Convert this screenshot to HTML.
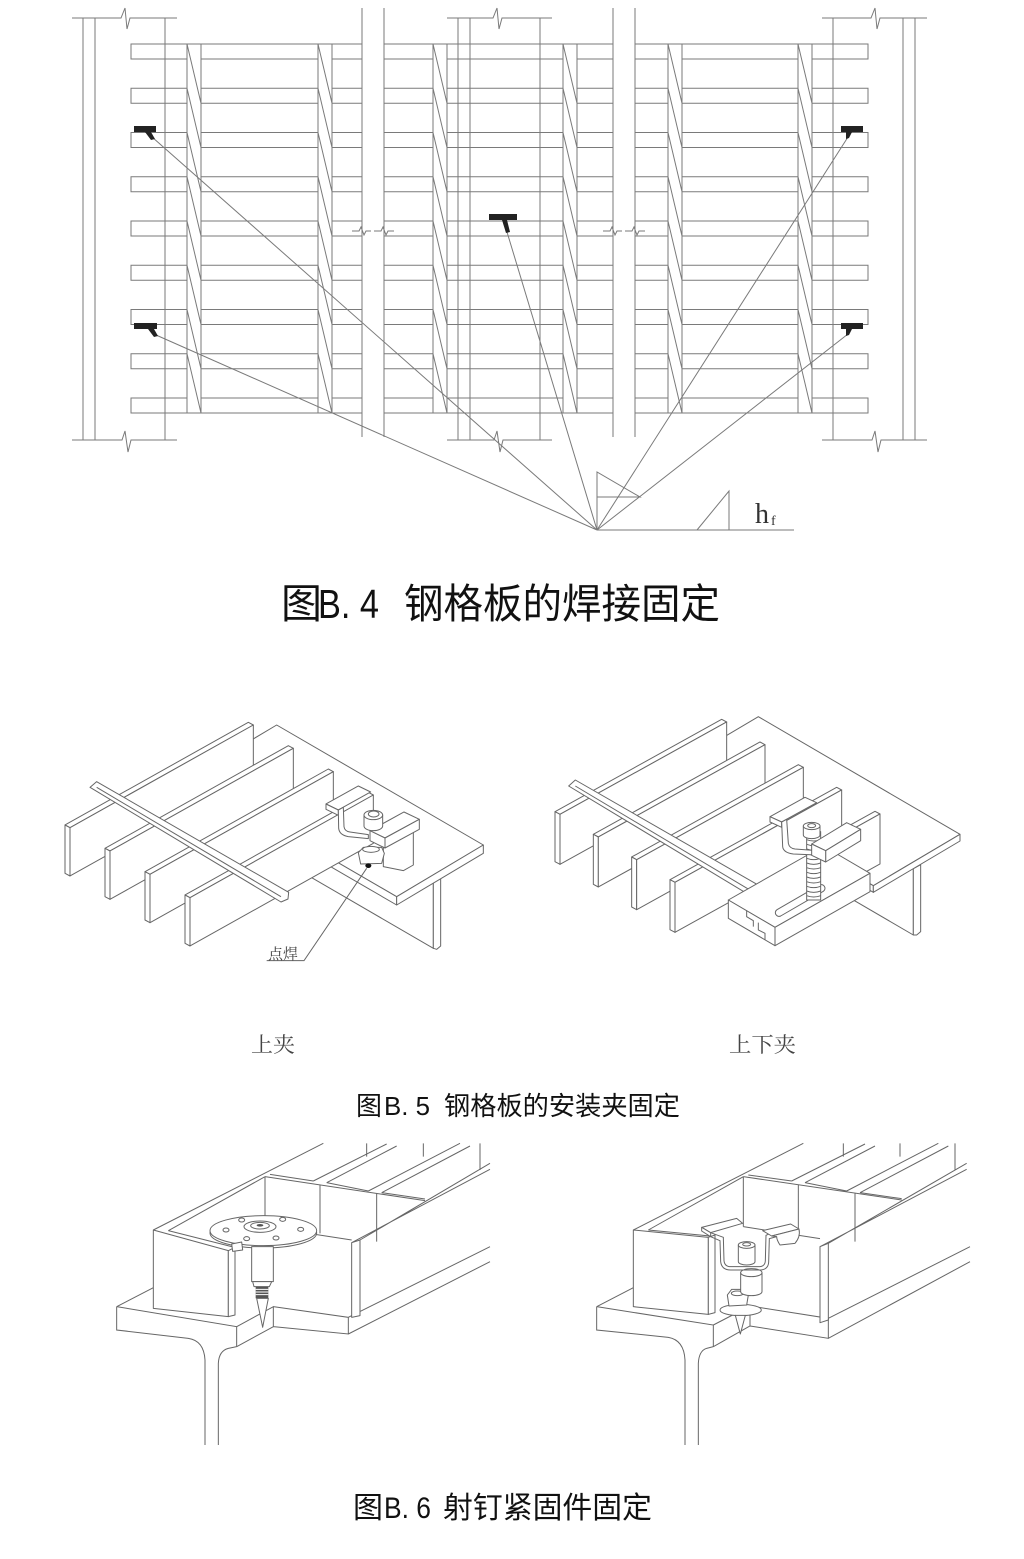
<!DOCTYPE html>
<html><head><meta charset="utf-8">
<style>
html,body{margin:0;padding:0;background:#fff;}
svg{display:block}
.s{fill:none;stroke:#666;stroke-width:1}
.w{fill:#fff;stroke:#666;stroke-width:1;stroke-linejoin:round}
.b4 .s,.b4.s{stroke:#7a7a7a}
.sc *{vector-effect:non-scaling-stroke}
.cap{font-family:"Liberation Sans","Noto Sans CJK SC",sans-serif;fill:#111}
.ser{font-family:"Liberation Serif","Noto Serif CJK SC",serif;fill:#444}
</style></head><body>
<svg width="1024" height="1559" viewBox="0 0 1024 1559" xmlns="http://www.w3.org/2000/svg">
<defs>
<g id="row"><rect x="131" y="0" width="231" height="15"/><rect x="384" y="0" width="229" height="15"/><rect x="635" y="0" width="233" height="15"/></g>
<g id="cb"><rect x="0" y="44" width="14" height="369" fill="#fff"/><path fill="none" d="M0,44L14,103.25M0,88.25L14,147.5M0,132.5L14,191.75M0,176.75L14,236M0,221L14,280.25M0,265.25L14,324.5M0,309.5L14,368.75M0,353.75L14,413"/></g>
</defs>

<!-- ============ Fig B.4 ============ -->
<g class="s b4" style="stroke:#7a7a7a">
<path d="M83,18V440M95,18V440M165,18V440M72,18H121L125,8L127,29L130,18H177M72,440H122L125,431L128,452L131,440H177"/>
<path d="M458,18V440M470,18V440M540,18V440M447,18H493L497,8L499,29L502,18H552M447,440H494L497,431L500,452L503,440H552"/>
<path d="M833,18V440M903,18V440M915,18V440M822,18H871L875,8L877,29L880,18H927M822,440H872L875,431L878,452L881,440H927"/>
<path d="M362,8V437M384,8V437M613,8V437M635,8V437"/>
<path d="M352,231H359L361,227L364,235L366,231H371M374,231H381L383,227L386,235L388,231H394M603,231H610L612,227L615,235L617,231H622M625,231H632L634,227L637,235L639,231H645"/>
<use href="#row" y="44"/><use href="#row" y="88.25"/><use href="#row" y="132.5"/><use href="#row" y="176.75"/><use href="#row" y="221"/><use href="#row" y="265.25"/><use href="#row" y="309.5"/><use href="#row" y="353.75"/><use href="#row" y="398"/>
<use href="#cb" x="187"/><use href="#cb" x="318"/><use href="#cb" x="433"/><use href="#cb" x="563"/><use href="#cb" x="668"/><use href="#cb" x="798"/>
<path d="M152,137L597,530M156,335L597,530M507,232L597,530M848,137L597,530M848,334L597,530"/>
<path d="M597,530V472L640,497H597M597,530H794M697,530L729,491V530"/>
</g>
<g fill="#222">
<rect x="134" y="126" width="22" height="6"/><polygon points="145,132 151,132 155,139 151,140"/>
<rect x="134" y="323" width="23" height="6"/><polygon points="148,329 154,329 158,336 154,337"/>
<rect x="489" y="214" width="28" height="6"/><polygon points="502,220 507,220 510,232 506,233"/>
<rect x="841" y="126" width="22" height="6"/><polygon points="846,132 852,132 849,138 846,139"/>
<rect x="841" y="323" width="22" height="6"/><polygon points="846,329 852,329 849,335 846,336"/>
</g>
<text x="755" y="523" font-family="Liberation Serif,serif" font-size="28" fill="#333">h</text>
<text x="771" y="525" font-family="Liberation Serif,serif" font-size="14" fill="#333">f</text>

<text class="cap" x="281" y="618" font-size="41">图</text>
<text class="cap" x="318" y="618" font-size="41" textLength="61" lengthAdjust="spacingAndGlyphs">B. 4</text>
<text class="cap" x="404" y="618" font-size="41" textLength="316" lengthAdjust="spacingAndGlyphs">钢格板的焊接固定</text>

<!-- ============ Fig B.5 left ============ -->
<g class="sc" transform="translate(50,700) scale(0.33333)">
<polygon class="w" points="780,333 1150,548 1150,745 780,530"/>
<polygon class="w" points="1150,548 1172,535 1172,738 1160,748 1150,745"/>
<polygon class="w" points="680,75 1300,435 1040,590 420,230"/>
<polygon class="w" points="1040,590 420,230 420,255 1040,615"/>
<polygon class="w" points="1300,435 1040,590 1040,615 1300,460"/>
<polygon class="w" points="45,375 595,67 610,75 60,383"/>
<polygon class="w" points="45,375 60,383 60,528 45,520"/>
<polygon class="w" points="60,383 610,75 610,220 60,528"/>
<polygon class="w" points="165,445 715,137 730,145 180,453"/>
<polygon class="w" points="165,445 180,453 180,598 165,590"/>
<polygon class="w" points="180,453 730,145 730,290 180,598"/>
<polygon class="w" points="285,515 835,207 850,215 300,523"/>
<polygon class="w" points="285,515 300,523 300,668 285,660"/>
<polygon class="w" points="300,523 850,215 850,360 300,668"/>
<polygon class="w" points="405,585 955,277 970,285 420,593"/>
<polygon class="w" points="405,585 420,593 420,738 405,730"/>
<polygon class="w" points="420,593 970,285 970,430 420,738"/>
<polygon class="w" points="120,262 140,245 716,577 714,597 693,606"/>
<path class="s" d="M140,262 L693,590"/>
<polygon class="w" points="828,312 925,258 962,276 865,330"/>
<polygon class="w" points="828,312 865,330 865,346 828,328"/>
<path class="w" d="M865,330 L880,322 L882,380 Q884,394 900,396 L955,404 L955,416 L895,410 Q868,405 866,385 Z"/>
<polygon class="w" points="1000,430 1090,385 1090,495 1060,512 1000,500"/>
<polygon class="w" points="960,392 1062,336 1108,358 1005,414"/>
<polygon class="w" points="1005,414 1108,358 1108,388 1005,444"/>
<polygon class="w" points="960,392 1005,414 1005,444 960,422"/>
<polygon class="w" points="925,458 940,442 995,442 1003,460 995,490 932,492"/>
<ellipse class="w" cx="963" cy="448" rx="25" ry="9"/>
<path class="w" d="M942,345 L942,378 A28,14 0 0 0 998,378 L998,345 Z"/>
<ellipse class="w" cx="970" cy="345" rx="28" ry="14"/>
<ellipse class="w" cx="971" cy="342" rx="16" ry="9"/>
<ellipse cx="955" cy="497" rx="9" ry="7" fill="#111"/>
<path class="s" d="M950,505 L762,782 L650,782"/>
</g>
<text class="ser" x="268" y="959" font-size="15" textLength="30" lengthAdjust="spacingAndGlyphs">点焊</text>

<!-- ============ Fig B.5 right ============ -->
<g class="sc" transform="translate(540,700) scale(0.33333)">
<polygon class="w" points="700,260 1120,506 1120,705 700,460"/>
<polygon class="w" points="1120,506 1142,494 1142,695 1130,705 1120,705"/>
<polygon class="w" points="655,50 1260,403 1000,557 395,204"/>
<polygon class="w" points="1000,557 395,204 395,224 1000,577"/>
<polygon class="w" points="1260,403 1000,557 1000,577 1260,423"/>
<polygon class="w" points="45,335 545,58 560,66 60,343"/>
<polygon class="w" points="45,335 60,343 60,493 45,485"/>
<polygon class="w" points="60,343 560,66 560,216 60,493"/>
<polygon class="w" points="160,403 660,126 675,134 175,411"/>
<polygon class="w" points="160,403 175,411 175,561 160,553"/>
<polygon class="w" points="175,411 675,134 675,284 175,561"/>
<polygon class="w" points="275,471 775,194 790,202 290,479"/>
<polygon class="w" points="275,471 290,479 290,629 275,621"/>
<polygon class="w" points="290,479 790,202 790,352 290,629"/>
<polygon class="w" points="390,539 890,262 905,270 405,547"/>
<polygon class="w" points="390,539 405,547 405,697 390,689"/>
<polygon class="w" points="405,547 905,270 905,420 405,697"/>
<polygon class="w" points="850,420 1005,334 1020,342 865,428"/>
<polygon class="w" points="865,428 1020,342 1020,492 865,578"/>
<polygon class="w" points="86,258 106,240 656,556 655,577 633,588"/>
<path class="s" d="M106,258 L633,572"/>
<polygon class="w" points="565,600 705,682 990,520 850,438"/>
<polygon class="w" points="705,682 990,520 990,575 705,737"/>
<polygon class="w" points="565,600 705,682 705,737 565,655"/>
<path class="s" d="M620,632 L620,650 L640,662 L640,680 M655,668 L655,690 L675,700 L675,720"/>
<path class="w" d="M722,648 L850,574 A11,11 0 0 0 839,555 L711,629 A11,11 0 0 0 722,648 Z"/>
<rect class="w" x="800" y="395" width="42" height="205"/>
<path class="s" d="M800,405Q821,413 842,405M800,419Q821,427 842,419M800,433Q821,441 842,433M800,447Q821,455 842,447M800,461Q821,469 842,461M800,475Q821,483 842,475M800,489Q821,497 842,489M800,503Q821,511 842,503M800,517Q821,525 842,517M800,531Q821,539 842,531M800,545Q821,553 842,545M800,559Q821,567 842,559M800,573Q821,581 842,573M800,587Q821,595 842,587"/>
<polygon class="w" points="690,350 795,292 830,308 725,366"/>
<polygon class="w" points="690,350 725,366 725,382 690,366"/>
<path class="w" d="M725,366 L740,358 L745,430 Q748,445 765,447 L830,452 L830,465 L760,462 Q730,458 728,440 Z"/>
<polygon class="w" points="815,432 920,368 962,388 857,452"/>
<polygon class="w" points="857,452 962,388 962,422 857,486"/>
<polygon class="w" points="815,432 857,452 857,486 815,466"/>
<path class="w" d="M790,378 L790,405 A25,11 0 0 0 840,405 L840,378 Z"/>
<ellipse class="w" cx="815" cy="378" rx="25" ry="11"/>
<ellipse class="s" cx="815" cy="377" rx="12" ry="6"/>
</g>

<text class="ser" x="251" y="1052" font-size="21" textLength="44" lengthAdjust="spacingAndGlyphs">上夹</text>
<text class="ser" x="729" y="1052" font-size="21" textLength="67" lengthAdjust="spacingAndGlyphs">上下夹</text>

<text class="cap" x="356" y="1115" font-size="26">图</text>
<text class="cap" x="384" y="1115" font-size="26" textLength="46" lengthAdjust="spacingAndGlyphs">B. 5</text>
<text class="cap" x="444" y="1115" font-size="26" textLength="236" lengthAdjust="spacingAndGlyphs">钢格板的安装夹固定</text>

<!-- ============ Fig B.6 left ============ -->
<g class="sc" transform="translate(100,1130) scale(0.33333)">
<path class="s" d="M50,530 L410,590 L410,650 M50,530 L50,600 L265,625 Q312,632 315,690 L315,945 M410,650 L385,655 Q357,662 355,700 L355,945 M50,530 L160,473 M410,590 L520,530 L520,590 M410,650 L520,590 M520,530 L745,562 L745,612 L520,590 M745,562 L1170,350 M745,612 L1170,395"/>
<path class="s" d="M160,300 L670,40 M205,302 L495,140 M495,140 L975,212 M495,140 V290 M660,165 V310 M830,190 V335 M510,133 L640,153 M680,158 L805,183 M845,188 L975,207 M640,153 L860,42 M680,158 L890,48 M805,183 L1080,40 M845,188 L1110,48 M755,338 L1170,118 M780,330 L1170,100 M800,40 V80 M970,40 V80 M1140,40 V120 M495,290 L755,330"/>
<polygon class="w" points="160,300 385,362 385,560 160,535"/>
<polygon class="w" points="385,362 405,352 405,555 385,560"/>
<path class="s" d="M205,302 L395,350"/>
<polygon class="w" points="755,338 780,330 780,557 755,562"/>
<ellipse class="w" cx="490" cy="309" rx="160" ry="45"/>
<ellipse class="w" cx="490" cy="302" rx="160" ry="45"/>
<ellipse class="w" cx="480" cy="290" rx="48" ry="17"/>
<ellipse class="s" cx="480" cy="287" rx="28" ry="10"/>
<ellipse cx="480" cy="286" rx="10" ry="4" fill="#555"/>
<g class="w"><ellipse cx="378" cy="300" rx="9" ry="6"/><ellipse cx="425" cy="270" rx="9" ry="6"/><ellipse cx="548" cy="268" rx="9" ry="6"/><ellipse cx="602" cy="298" rx="9" ry="6"/><ellipse cx="528" cy="324" rx="9" ry="6"/><ellipse cx="440" cy="326" rx="9" ry="6"/></g>
<polygon class="w" points="395,342 425,336 428,360 398,364"/>
<rect class="w" x="455" y="350" width="65" height="105"/>
<path class="w" d="M458,455 L462,470 L508,470 L515,455 Z"/>
<rect x="467" y="470" width="38" height="35" fill="#555"/>
<path d="M467,478H505M467,486H505M467,494H505" stroke="#fff" stroke-width="1"/>
<path class="w" d="M470,505 L505,505 L488,592 Z"/>
</g>

<!-- ============ Fig B.6 right ============ -->
<g class="sc" transform="translate(580,1130) scale(0.33333)">
<path class="s" d="M50,530 L400,585 L400,650 M50,530 L50,600 L265,622 Q312,630 315,690 L315,945 M400,650 L380,655 Q357,662 355,700 L355,945 M50,530 L160,473 M400,585 L510,528 L510,588 M400,650 L510,588 M510,528 L745,565 L745,625 L510,588 M745,565 L1170,350 M745,625 L1170,395"/>
<path class="s" d="M160,300 L670,40 M205,300 L490,140 M490,140 L965,210 M490,140 V290 M655,165 V310 M825,190 V335 M505,135 L635,153 M675,158 L800,183 M840,188 L965,206 M635,153 L855,42 M675,158 L885,48 M800,183 L1075,40 M840,188 L1105,48 M720,350 L1160,118 M745,340 L1160,100 M790,40 V80 M960,40 V80 M1125,40 V120 M490,290 L720,326"/>
<polygon class="w" points="160,300 385,322 385,553 160,530"/>
<polygon class="w" points="385,322 405,315 405,548 385,553"/>
<path class="s" d="M205,300 L390,318"/>
<polygon class="w" points="720,350 745,340 745,570 720,578"/>
<ellipse class="w" cx="482" cy="540" rx="62" ry="17"/>
<path class="w" d="M466,556 L496,556 L481,612 Z"/>
<polygon class="w" points="442,495 455,478 495,478 505,495 500,525 447,528"/>
<ellipse class="s" cx="472" cy="490" rx="18" ry="7"/>
<path class="w" d="M482,428 V485 A32,12 0 0 0 546,485 V428 Z"/>
<ellipse class="w" cx="514" cy="428" rx="32" ry="12"/>
<path class="s" d="M392,308 L430,322 L432,392 Q434,410 452,410 L540,410 Q555,408 556,393 L558,316 L575,308"/>
<path class="s" d="M392,320 L420,332 L422,395 Q425,420 452,420 L542,420 Q565,418 566,396 L568,326 L590,320"/>
<path class="w" d="M365,292 L470,265 L488,280 L392,308 Z"/>
<path class="w" d="M365,292 L392,308 L392,320 L365,303 Z"/>
<polygon class="w" points="548,302 632,282 657,297 575,318"/>
<path class="w" d="M575,318 L657,297 Q662,320 645,340 L600,345 Q590,330 590,320 Z"/>
<path class="w" d="M475,345 V395 A25,10 0 0 0 525,395 V345 Z"/>
<ellipse class="w" cx="500" cy="345" rx="25" ry="10"/>
<ellipse class="s" cx="500" cy="343" rx="12" ry="5"/>
</g>

<text class="cap" x="353" y="1518" font-size="30">图</text>
<text class="cap" x="384" y="1518" font-size="30" textLength="47" lengthAdjust="spacingAndGlyphs">B. 6</text>
<text class="cap" x="443" y="1518" font-size="30" textLength="209" lengthAdjust="spacingAndGlyphs">射钉紧固件固定</text>
</svg>
</body></html>
